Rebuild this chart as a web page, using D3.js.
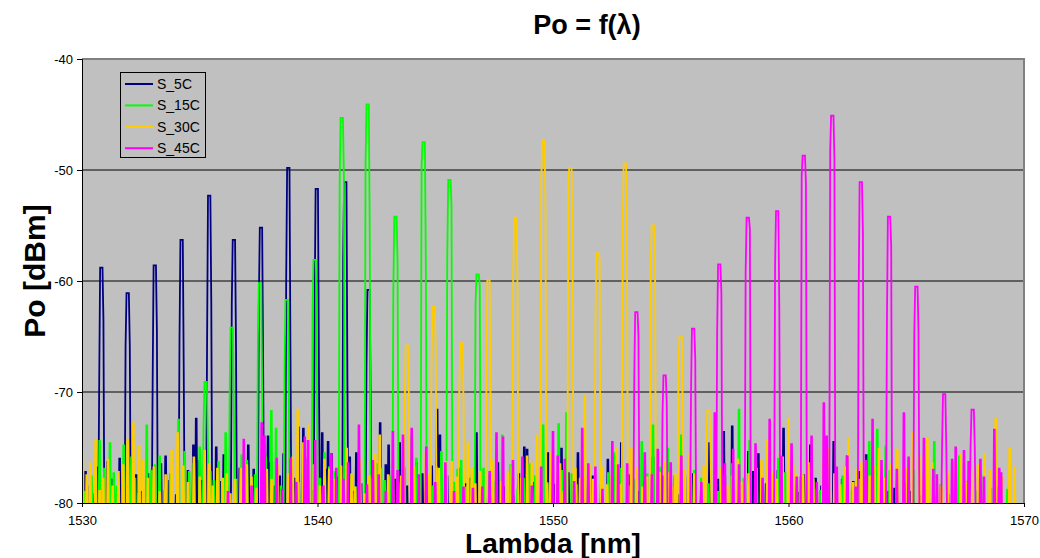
<!DOCTYPE html>
<html><head><meta charset="utf-8">
<script src="https://cdn.jsdelivr.net/npm/d3@7"></script>
<style>body{margin:0;background:#fff} text{font-family:"Liberation Sans",Arial,sans-serif}</style>
</head><body><svg id="c" width="1040" height="558"></svg>
<script>
// ---------------- DATA ----------------
const xTicks = [1530, 1540, 1550, 1560, 1570];
const yTicks = [-80, -70, -60, -50, -40];
const seriesNames = ["S_5C", "S_15C", "S_30C", "S_45C"];

// main modes: [lambda nm, peak dBm, left shoulder dBm, right shoulder dBm]
const peaks_S5C = [
  [1530.82,-58.8,-69.4,-63.5],[1531.94,-61.1,-65.9,-65.9],[1533.09,-58.6,-69.2,-64.4],
  [1534.23,-56.3,-65.3,-68.0],[1535.40,-52.3,-66.0,-62.0],[1536.45,-56.3,-62.0,-66.0],
  [1537.60,-55.2,-62.0,-67.0],[1538.76,-49.8,-60.0,-66.0],[1539.97,-51.7,-62.0,-68.0],
  [1541.18,-51.1,-58.0,-69.0],[1542.17,-60.8,-67.8,-72.0]
];
const peaks_S15C = [
  [1535.25,-69.1,-73.0,-74.0],[1536.36,-64.2,-70.0,-72.0],[1537.56,-60.2,-65.0,-70.0],
  [1538.69,-61.7,-68.0,-70.0],[1539.88,-58.1,-62.4,-66.0],[1541.03,-45.3,-51.4,-50.5],
  [1542.13,-44.1,-49.5,-56.3],[1543.31,-54.2,-61.0,-58.4],[1544.51,-47.5,-49.5,-58.4],
  [1545.60,-50.9,-57.9,-53.1],[1546.80,-59.4,-62.3,-60.4]
];
const peaks_S30C = [
  [1543.79,-65.8,-72.0,-70.0],[1544.93,-62.3,-68.0,-66.0],[1546.11,-65.6,-70.0,-71.0],
  [1547.26,-59.9,-69.8,-72.5],[1548.40,-54.3,-59.3,-60.0],[1549.59,-47.3,-51.2,-53.2],
  [1550.74,-49.8,-51.2,-56.9],[1551.89,-57.5,-64.2,-58.1],[1553.05,-49.4,-55.1,-54.7],
  [1554.24,-55.0,-58.3,-56.5],[1555.42,-65.0,-67.0,-72.0],[1556.60,-71.7,-74.0,-75.0]
];
const peaks_S45C = [
  [1553.54,-62.8,-68.6,-65.0],[1554.74,-68.5,-72.0,-71.0],[1555.95,-64.3,-70.0,-67.0],
  [1557.06,-58.5,-64.7,-61.1],[1558.27,-54.3,-59.2,-55.3],[1559.52,-53.7,-58.5,-62.7],
  [1560.65,-48.7,-50.5,-51.2],[1561.86,-45.1,-48.2,-49.0],[1563.07,-51.1,-61.1,-55.6],
  [1564.27,-54.2,-63.6,-56.8],[1565.43,-60.5,-64.8,-64.5],[1566.61,-70.2,-75.0,-75.0],
  [1567.82,-71.6,-75.0,-75.0]
];

// noise-floor spikes: [lambda nm, dBm]
const noise_S5C = [
  [1530.15,-77.2],[1530.34,-78.5],[1530.55,-79.2],[1530.65,-76.8],[1531.09,-76.3],[1531.25,-77.9],
  [1531.35,-78.8],[1531.60,-76.0],[1531.80,-78.2],[1532.10,-76.8],[1532.30,-77.5],[1532.55,-79.0],
  [1532.80,-77.4],[1533.35,-76.5],[1533.55,-75.8],[1533.72,-78.0],[1534.00,-79.3],[1534.50,-77.1],
  [1534.73,-74.8],[1534.85,-72.4],[1535.00,-76.2],[1535.10,-78.0],[1535.70,-75.0],[1535.85,-78.1],
  [1536.02,-75.7],[1536.20,-78.6],[1536.70,-76.9],[1536.80,-77.0],[1537.06,-74.8],[1537.29,-77.0],
  [1537.45,-78.3],[1537.90,-74.0],[1538.00,-76.4],[1538.20,-78.5],[1538.40,-77.6],[1538.56,-75.6],
  [1539.00,-77.8],[1539.19,-73.2],[1539.40,-73.3],[1539.60,-76.0],[1539.80,-78.9],[1540.20,-73.7],
  [1540.35,-77.0],[1540.45,-74.5],[1540.60,-75.6],[1540.85,-77.7],[1541.00,-76.8],[1541.37,-75.9],
  [1541.50,-79.0],[1541.65,-75.5],[1541.85,-78.3],[1542.40,-77.3],[1542.66,-72.8],[1542.90,-76.6],
  [1543.02,-74.8],[1543.30,-77.9],[1543.49,-74.6],[1543.65,-76.9],[1543.80,-78.5],[1544.00,-78.1],
  [1544.20,-76.4],[1544.45,-77.4],[1544.60,-79.0],[1544.85,-76.7],[1545.08,-71.6],[1545.20,-73.9],
  [1545.50,-77.6],[1545.90,-78.8],[1546.05,-76.9],[1546.28,-78.3],[1546.50,-77.8],[1546.75,-73.7],
  [1547.10,-79.2],[1547.40,-77.1],[1547.66,-76.4],[1547.90,-78.6],[1548.30,-79.4],[1548.55,-77.4],
  [1548.78,-75.0],[1548.90,-75.2],[1549.20,-78.2],[1549.55,-77.1],[1549.79,-75.5],[1550.05,-78.4],
  [1550.36,-75.1],[1550.65,-77.3],[1551.06,-75.5],[1551.35,-78.6],[1551.70,-77.6],[1552.05,-77.9],
  [1552.33,-76.1],[1552.60,-78.3],[1552.90,-74.6],[1553.20,-77.5],[1553.60,-79.0],[1553.90,-78.1],
  [1554.25,-75.9],[1554.65,-77.6],[1554.90,-78.4],[1555.30,-79.3],[1555.60,-77.6],[1555.95,-77.4],
  [1556.30,-78.8],[1556.65,-74.6],[1557.00,-77.9],[1557.25,-73.6],[1557.61,-73.1],[1557.90,-78.5],
  [1558.30,-75.4],[1558.50,-77.2],[1558.72,-75.6],[1559.05,-78.3],[1559.30,-78.9],[1559.55,-77.1],
  [1559.79,-73.3],[1560.15,-78.2],[1560.40,-79.1],[1560.65,-77.5],[1560.93,-74.8],[1561.15,-77.8],
  [1561.40,-78.5],[1561.70,-78.4],[1561.92,-74.5],[1562.28,-77.9],[1562.49,-75.8],[1562.75,-78.1],
  [1563.00,-77.2],[1563.30,-75.7],[1563.60,-78.4],[1563.90,-77.9],[1564.20,-79.0],[1564.50,-78.7],
  [1564.90,-78.2],[1565.20,-79.0],[1565.60,-79.4]
];
const noise_S15C = [
  [1530.10,-79.0],[1530.40,-77.6],[1530.75,-74.4],[1530.95,-76.9],[1531.19,-74.6],[1531.35,-77.3],
  [1531.50,-78.5],[1531.77,-74.8],[1532.10,-75.9],[1532.25,-77.8],[1532.40,-79.2],[1532.75,-73.0],
  [1532.95,-77.1],[1533.10,-76.6],[1533.30,-75.8],[1533.50,-78.9],[1533.75,-77.4],[1534.10,-72.5],
  [1534.36,-75.4],[1534.55,-77.2],[1534.75,-76.5],[1535.00,-75.0],[1535.45,-77.2],[1535.60,-78.0],
  [1535.80,-76.3],[1536.10,-73.7],[1536.55,-77.9],[1536.78,-75.7],[1537.00,-76.2],[1537.20,-79.0],
  [1537.35,-77.5],[1537.80,-75.9],[1538.04,-71.7],[1538.24,-73.3],[1538.45,-78.5],[1538.90,-77.4],
  [1539.20,-78.2],[1539.40,-76.6],[1539.60,-77.0],[1540.10,-77.8],[1540.30,-75.5],[1540.50,-76.8],
  [1540.73,-77.2],[1541.25,-77.2],[1541.45,-77.5],[1541.60,-78.6],[1541.80,-77.8],[1542.35,-77.9],
  [1542.50,-76.5],[1542.70,-76.9],[1542.85,-78.0],[1543.05,-77.6],[1543.55,-78.2],[1543.70,-76.8],
  [1544.00,-74.0],[1544.20,-76.0],[1544.70,-77.8],[1544.90,-78.5],[1545.05,-76.8],[1545.26,-75.4],
  [1545.80,-78.2],[1545.95,-77.0],[1546.10,-76.2],[1546.30,-78.6],[1546.55,-77.6],[1547.05,-76.9],
  [1547.30,-77.5],[1547.55,-78.1],[1547.85,-73.9],[1548.20,-76.6],[1548.50,-78.8],[1548.75,-77.8],
  [1549.00,-76.5],[1549.25,-77.6],[1549.58,-73.0],[1549.75,-78.2],[1549.90,-77.6],[1550.24,-72.9],
  [1550.40,-77.1],[1550.57,-71.9],[1550.80,-77.4],[1551.00,-78.4],[1551.25,-76.7],[1551.50,-77.9],
  [1551.75,-78.1],[1552.10,-79.3],[1552.35,-77.3],[1552.60,-75.5],[1552.90,-76.9],[1553.20,-78.5],
  [1553.50,-77.9],[1553.77,-74.5],[1554.00,-77.4],[1554.25,-73.0],[1554.55,-76.8],[1554.88,-75.1],
  [1555.15,-77.6],[1555.45,-73.9],[1555.80,-78.6],[1556.00,-77.1],[1556.30,-77.8],[1556.60,-78.3],
  [1557.00,-79.0],[1557.30,-77.6],[1557.60,-76.5],[1557.90,-71.6],[1558.10,-77.8],[1558.35,-74.4],
  [1558.65,-76.9],[1558.90,-78.9],[1559.20,-77.9],[1559.57,-76.0],[1559.85,-77.3],[1560.20,-78.4],
  [1560.50,-77.7],[1560.80,-79.1],[1561.05,-77.9],[1561.35,-78.9],[1561.65,-78.2],[1562.00,-79.2],
  [1562.30,-77.6],[1562.70,-78.9],[1563.00,-77.9],[1563.43,-74.5],[1563.77,-73.4],[1564.13,-74.9],
  [1564.30,-77.1],[1564.60,-78.2],[1565.00,-78.5],[1565.30,-77.1],[1565.70,-79.0],[1565.90,-77.6],
  [1566.19,-74.5],[1566.45,-78.4],[1566.80,-79.3],[1567.00,-77.4],[1567.25,-75.8],[1567.60,-78.1],
  [1568.00,-79.0],[1568.30,-77.5],[1568.60,-78.7],[1568.90,-78.6],[1569.30,-78.8]
];
const noise_S30C = [
  [1530.03,-75.2],[1530.20,-77.5],[1530.35,-76.4],[1530.58,-74.3],[1530.75,-78.9],[1530.90,-77.8],
  [1531.10,-76.1],[1531.30,-78.5],[1531.55,-77.2],[1531.75,-76.6],[1531.94,-74.3],[1532.18,-72.8],
  [1532.43,-74.9],[1532.60,-76.2],[1532.80,-77.8],[1533.05,-76.8],[1533.30,-79.0],[1533.55,-77.5],
  [1533.81,-75.3],[1534.06,-73.7],[1534.30,-76.7],[1534.50,-78.2],[1534.75,-75.9],[1535.00,-77.7],
  [1535.21,-75.3],[1535.40,-76.5],[1535.55,-78.5],[1535.75,-76.9],[1535.98,-77.8],[1536.15,-77.4],
  [1536.30,-79.2],[1536.50,-77.9],[1536.74,-76.9],[1537.00,-76.6],[1537.20,-77.7],[1537.40,-78.7],
  [1537.65,-75.8],[1537.85,-77.0],[1538.05,-77.9],[1538.30,-76.6],[1538.50,-79.1],[1538.75,-77.4],
  [1538.95,-75.9],[1539.16,-71.6],[1539.40,-74.6],[1539.62,-73.0],[1539.85,-76.6],[1540.10,-78.5],
  [1540.30,-76.1],[1540.50,-77.0],[1540.75,-77.9],[1541.00,-76.7],[1541.24,-75.1],[1541.45,-77.4],
  [1541.60,-78.6],[1541.80,-76.2],[1542.00,-79.2],[1542.20,-77.6],[1542.45,-75.6],[1542.64,-73.9],
  [1543.00,-77.5],[1543.20,-76.3],[1543.40,-79.0],[1543.55,-77.6],[1544.10,-76.8],[1544.30,-77.8],
  [1544.60,-75.5],[1544.75,-77.4],[1545.15,-76.9],[1545.47,-76.3],[1545.70,-76.3],[1545.90,-77.7],
  [1546.39,-74.6],[1546.55,-76.9],[1546.70,-78.3],[1546.90,-77.2],[1547.45,-76.2],[1547.60,-77.6],
  [1547.80,-78.1],[1548.09,-77.3],[1548.25,-76.7],[1548.65,-77.8],[1548.90,-75.8],[1549.10,-76.4],
  [1549.32,-73.9],[1549.75,-78.3],[1549.90,-75.5],[1550.15,-77.4],[1550.30,-76.5],[1550.45,-79.0],
  [1550.95,-76.9],[1551.15,-77.8],[1551.35,-70.3],[1551.55,-76.6],[1551.70,-77.9],[1552.10,-76.8],
  [1552.30,-78.4],[1552.50,-77.6],[1552.70,-75.1],[1552.85,-78.4],[1553.33,-75.1],[1553.55,-76.9],
  [1553.80,-78.6],[1554.00,-77.7],[1554.40,-78.6],[1554.55,-77.3],[1554.75,-76.3],[1554.90,-77.3],
  [1555.05,-78.6],[1555.20,-77.4],[1555.60,-77.1],[1555.80,-75.6],[1556.00,-77.4],[1556.10,-78.9],
  [1556.40,-76.7],[1556.85,-75.1],[1557.15,-76.9],[1557.40,-78.5],[1557.60,-77.6],[1557.85,-76.1],
  [1558.00,-78.2],[1558.30,-77.4],[1558.60,-76.8],[1558.85,-76.2],[1559.10,-74.4],[1559.30,-77.3],
  [1559.50,-77.9],[1559.75,-75.9],[1560.00,-72.4],[1560.20,-76.6],[1560.35,-77.5],[1560.62,-77.5],
  [1560.85,-76.4],[1561.05,-77.9],[1561.20,-78.8],[1561.45,-76.3],[1561.70,-75.1],[1561.95,-77.4],
  [1562.20,-78.4],[1562.40,-76.8],[1562.55,-74.2],[1562.75,-78.2],[1562.90,-77.0],[1563.10,-76.4],
  [1563.45,-77.6],[1563.65,-76.7],[1563.84,-75.1],[1564.05,-77.8],[1564.35,-76.6],[1564.62,-75.2],
  [1564.85,-77.1],[1565.05,-76.9],[1565.26,-73.6],[1565.55,-75.8],[1565.70,-77.8],[1565.90,-74.2],
  [1566.10,-76.4],[1566.30,-77.9],[1566.50,-78.5],[1566.75,-77.2],[1567.00,-76.3],[1567.32,-75.6],
  [1567.55,-78.2],[1567.75,-77.0],[1568.05,-76.6],[1568.32,-75.6],[1568.55,-77.1],[1568.80,-72.4],
  [1569.05,-77.6],[1569.39,-75.1],[1569.60,-76.8]
];
const noise_S45C = [
  [1536.20,-79.0],[1536.87,-74.3],[1537.20,-78.5],[1537.63,-72.8],[1537.75,-74.0],[1538.27,-76.0],
  [1538.50,-78.8],[1538.86,-76.0],[1539.10,-78.2],[1539.46,-74.1],[1539.60,-74.4],[1539.90,-74.4],
  [1540.25,-78.5],[1540.59,-75.6],[1540.80,-76.9],[1541.10,-77.9],[1541.30,-76.4],[1541.76,-73.0],
  [1542.10,-78.4],[1542.35,-76.2],[1542.60,-77.5],[1542.90,-79.0],[1543.20,-73.6],[1543.40,-77.1],
  [1543.63,-73.9],[1544.00,-73.3],[1544.30,-77.5],[1544.62,-75.0],[1545.00,-78.2],[1545.43,-76.4],
  [1545.80,-79.0],[1546.20,-78.6],[1546.60,-78.7],[1547.00,-78.6],[1547.31,-77.2],[1547.60,-73.7],
  [1547.88,-74.1],[1548.30,-76.2],[1548.70,-75.9],[1549.10,-78.5],[1549.50,-76.8],[1550.00,-73.6],
  [1550.20,-75.8],[1550.50,-76.1],[1550.90,-78.1],[1551.24,-73.3],[1551.50,-76.5],[1551.80,-76.8],
  [1552.10,-78.8],[1552.52,-74.5],[1552.77,-76.6],[1553.15,-76.5],[1553.90,-75.5],[1554.20,-77.5],
  [1554.45,-75.2],[1555.00,-76.4],[1555.45,-75.8],[1556.30,-78.2],[1556.87,-71.9],[1557.30,-76.5],
  [1557.65,-75.2],[1557.90,-76.6],[1558.60,-74.7],[1558.90,-77.8],[1559.20,-72.5],[1559.70,-75.8],
  [1560.13,-74.7],[1560.35,-77.7],[1560.98,-74.0],[1561.20,-78.2],[1561.50,-71.0],[1561.62,-74.0],
  [1562.05,-76.8],[1562.50,-75.8],[1562.85,-78.6],[1563.30,-76.2],[1563.57,-72.5],[1563.95,-76.2],
  [1564.60,-77.0],[1564.90,-71.9],[1565.10,-75.9],[1565.75,-74.2],[1566.15,-77.0],[1566.30,-77.5],
  [1566.95,-76.1],[1567.10,-75.0],[1567.45,-75.3],[1567.65,-76.3],[1568.15,-76.1],[1568.30,-77.7],
  [1568.74,-73.4],[1568.95,-76.9],[1569.03,-77.3]
];

const seriesPeaks = [peaks_S5C, peaks_S15C, peaks_S30C, peaks_S45C];
const seriesNoise = [noise_S5C, noise_S15C, noise_S30C, noise_S45C];
const seriesColors = ["#000080", "#00ff00", "#ffcc00", "#ff00ff"];

// ---------------- CHART ----------------
const svg = d3.select("#c");
const X0 = 82, X1 = 1024, Y0 = 59, Y1 = 503;
const x = d3.scaleLinear().domain([1530, 1570]).range([X0, X1]);
const y = d3.scaleLinear().domain([-80, -40]).range([Y1, Y0]);
const FLOOR = -82; // below the axis: lines drop out of the plot between spikes

svg.append("defs").append("clipPath").attr("id", "clip")
  .append("rect").attr("x", X0).attr("y", Y0).attr("width", X1 - X0).attr("height", Y1 - Y0);

svg.append("rect").attr("x", X0).attr("y", Y0).attr("width", X1 - X0).attr("height", Y1 - Y0)
  .attr("fill", "#c0c0c0");

// gridlines
svg.append("g").selectAll("line").data(yTicks.filter(v => v > -80 && v < -40)).join("line")
  .attr("x1", X0).attr("x2", X1).attr("y1", d => y(d)).attr("y2", d => y(d))
  .attr("stroke", "#606060").attr("stroke-width", 2);

// series
const line = d3.line().x(d => x(d[0])).y(d => y(d[1]));
function vertices(peaks, noise) {
  const items = [];
  peaks.forEach(p => items.push({ l: p[0], pts: [[-0.13, FLOOR], [-0.09, p[2]], [-0.05, p[1]], [0.05, p[1]], [0.09, p[3]], [0.13, FLOOR]] }));
  noise.forEach(n => items.push({ l: n[0], pts: [[-0.045, FLOOR], [-0.017, n[1]], [0.017, n[1]], [0.045, FLOOR]] }));
  items.sort((a, b) => a.l - b.l);
  const out = [];
  items.forEach(it => it.pts.forEach(p => out.push([it.l + p[0], p[1]])));
  return out;
}
const gS = svg.append("g").attr("clip-path", "url(#clip)");
seriesNames.forEach((name, i) => {
  gS.append("path").datum(vertices(seriesPeaks[i], seriesNoise[i]))
    .attr("d", line).attr("fill", "none").attr("stroke", seriesColors[i])
    .attr("stroke-width", 1.8).attr("stroke-linejoin", "miter").attr("stroke-miterlimit", 2);
});

// border (top/right)
svg.append("path").attr("d", `M${X0},${Y0}H${X1}V${Y1}`).attr("fill", "none")
  .attr("stroke", "#808080").attr("stroke-width", 2);

// axes
const fmt = d => String(d);
const yAxis = d3.axisLeft(y).tickValues(yTicks).tickSize(5).tickPadding(4).tickFormat(fmt);
const gy = svg.append("g").attr("transform", `translate(${X0},0)`).call(yAxis);
const xAxis = d3.axisBottom(x).tickValues(xTicks).tickSize(4).tickPadding(9).tickFormat(fmt);
const gx = svg.append("g").attr("transform", `translate(0,${Y1})`).call(xAxis);
[gx, gy].forEach(g => {
  g.select(".domain").attr("stroke", "#000");
  g.selectAll(".tick line").attr("stroke", "#000");
  g.selectAll("text").attr("font-size", 13).attr("fill", "#000")
    .style("font-family", "'Liberation Sans', Arial, sans-serif");
});

// titles
svg.append("text").attr("x", 587).attr("y", 34).attr("text-anchor", "middle")
  .attr("font-size", 27).attr("font-weight", "bold").text("Po = f(λ)");
svg.append("text").attr("x", 553).attr("y", 553).attr("text-anchor", "middle")
  .attr("font-size", 28).attr("font-weight", "bold").text("Lambda [nm]");
svg.append("text").attr("transform", "translate(45,271) rotate(-90)").attr("text-anchor", "middle")
  .attr("font-size", 30).attr("font-weight", "bold").text("Po [dBm]");

// legend
const lg = svg.append("g");
lg.append("rect").attr("x", 120.5).attr("y", 72.5).attr("width", 85).attr("height", 85)
  .attr("fill", "#c0c0c0").attr("stroke", "#000");
seriesNames.forEach((name, i) => {
  const yy = 84 + i * 21.4;
  lg.append("line").attr("x1", 125).attr("x2", 153).attr("y1", yy).attr("y2", yy)
    .attr("stroke", seriesColors[i]).attr("stroke-width", 2);
  lg.append("text").attr("x", 157).attr("y", yy).attr("dy", "0.35em")
    .attr("font-size", 14).text(name);
});
</script></body></html>
